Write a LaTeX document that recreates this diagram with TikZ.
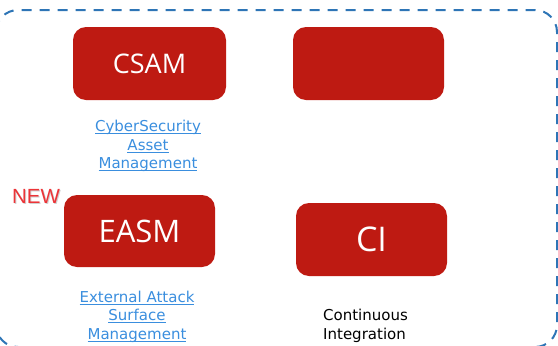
\documentclass[tikz,border=0pt]{standalone}
\usepackage{fontspec}
\setmainfont{DejaVu Sans}
\newfontfamily\boxfont{Open Sans}
\newfontfamily\tagfont{Liberation Sans}

\definecolor{tileRed}{RGB}{190,26,18}
\definecolor{frameBlue}{RGB}{46,117,182}
\definecolor{linkBlue}{RGB}{58,142,222}
\definecolor{newRed}{RGB}{236,52,56}

% underlined link text with a fixed underline offset
\newcommand\lnk[1]{\setbox0\hbox{#1}\rlap{\rule[-2.8pt]{\wd0}{0.9pt}}\box0}

\tikzset{
  tile/.style={fill=tileRed, draw=none, rounded corners=13pt,
    minimum width=151pt, minimum height=73pt, inner sep=0pt,
    text=white, font=\boxfont},
  linklabel/.style={text=linkBlue, align=center, inner sep=0pt,
    font=\fontsize{15}{18.5}\selectfont},
  plainlabel/.style={text=black, align=left, inner sep=0pt,
    font=\fontsize{15}{18.5}\selectfont},
  frame/.style={draw=frameBlue, line width=2pt, dash pattern=on 10pt off 8pt,
    rounded corners=22pt},
  tagtext/.style={inner sep=0pt, font=\tagfont\fontsize{20.5}{23}\selectfont}
}

\begin{document}
\begin{tikzpicture}[x=1pt, y=-1pt]
  \useasboundingbox (0,0) rectangle (558,346);

  % dashed outer frame
  \draw[frame] (-4,10) rectangle (557,347);

  % tiles
  \node[tile, minimum width=153pt, font=\boxfont\fontsize{27}{30}\selectfont] (csam) at (149.5,63.5) {CSAM};
  \node[tile] (blank) at (368.5,63.5) {};
  \node[tile, minimum height=72pt, font=\boxfont\fontsize{31}{34}\selectfont] (easm) at (139.5,231) {EASM};
  \node[tile, font=\boxfont\fontsize{34}{38}\selectfont] (ci) at (371.5,239.5) {CI};

  % captions (anchored on the baseline of their last line)
  \node[linklabel, anchor=base] (csamtxt) at (148,168.5)
    {\lnk{CyberSecurity}\\ \lnk{Asset}\\ \lnk{Management}};
  \node[linklabel, anchor=base] (easmtxt) at (137,339)
    {\lnk{External Attack}\\ \lnk{Surface}\\ \lnk{Management}};
  \node[plainlabel, anchor=base west] (citxt) at (323,339)
    {Continuous\\ Integration};

  % badge with a soft drop shadow
  \node[tagtext, text=black, opacity=0.18] (newshadow) at (37,197) {NEW};
  \node[tagtext, text=newRed] (newtag) at (36,196) {NEW};
\end{tikzpicture}
\end{document}
